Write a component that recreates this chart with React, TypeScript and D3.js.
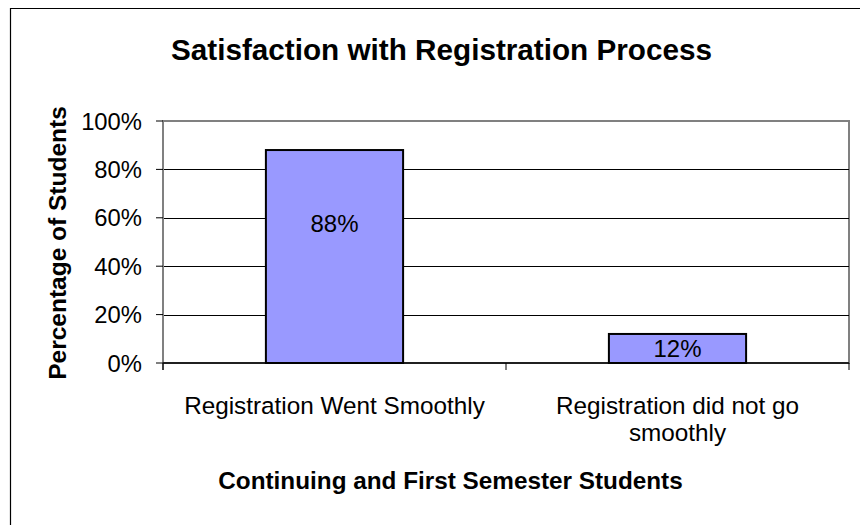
import React from "react";
import * as d3 from "d3";

const categories: string[][] = [
  ["Registration Went Smoothly"],
  ["Registration did not go", "smoothly"],
];
const values: number[] = [0.88, 0.12];
const yTicks: number[] = [0, 0.2, 0.4, 0.6, 0.8, 1.0];
const title = "Satisfaction with Registration Process";
const yTitle = "Percentage of Students";
const xTitle = "Continuing and First Semester Students";

const W = 860;
const H = 525;
const plot = { left: 163, right: 849, top: 121, bottom: 363 };
const FONT = "'Liberation Sans', Arial, sans-serif";

export default function App() {
  const x = d3
    .scaleBand<number>()
    .domain(values.map((_, i) => i))
    .range([plot.left, plot.right])
    .paddingInner(0.6)
    .paddingOuter(0.3);
  const step = (plot.right - plot.left) / values.length;
  const y = d3.scaleLinear().domain([0, 1]).range([plot.bottom, plot.top]);
  const fmt = d3.format(".0%");

  return (
    <svg
      width={W}
      height={H}
      style={{ position: "absolute", left: 0, top: 0, background: "#fff" }}
      fontFamily={FONT}
    >
      <rect x={0} y={0} width={W} height={H} fill="#fff" />
      {/* outer chart border */}
      <path d={`M10.5,${H} V8.5 H${W}`} fill="none" stroke="#000" strokeWidth={1.2} />

      {/* title */}
      <text x={441.5} y={60} textAnchor="middle" fontSize={29.7} fontWeight="bold" fill="#000">
        {title}
      </text>

      {/* plot area border */}
      <rect
        x={plot.left}
        y={plot.top}
        width={plot.right - plot.left}
        height={plot.bottom - plot.top}
        fill="#fff"
        stroke="#808080"
        strokeWidth={2}
      />

      {/* gridlines */}
      {yTicks
        .filter((t) => t > 0 && t < 1)
        .map((t) => (
          <line
            key={t}
            x1={plot.left}
            x2={plot.right}
            y1={Math.round(y(t)) + 0.5}
            y2={Math.round(y(t)) + 0.5}
            stroke="#000"
            strokeWidth={1}
          />
        ))}

      {/* bars */}
      {values.map((v, i) => {
        const bx = x(i)!;
        const bw = x.bandwidth();
        const top = y(v);
        const bottom = y(0);
        const cy = Math.min((top + bottom) / 2, top + 73);
        return (
          <g key={i}>
            <rect x={bx} y={top} width={bw} height={bottom - top} fill="#9999FF" stroke="#000" strokeWidth={2} />
            <text x={bx + bw / 2} y={cy + 9} textAnchor="middle" fontSize={24} fill="#000">
              {fmt(v)}
            </text>
          </g>
        );
      })}

      {/* y axis line */}
      <line x1={plot.left} x2={plot.left} y1={plot.top} y2={plot.bottom + 7} stroke="#808080" strokeWidth={2} />
      {/* x axis line */}
      <line x1={plot.left} x2={plot.right} y1={plot.bottom} y2={plot.bottom} stroke="#000" strokeWidth={1.5} />

      {/* y ticks */}
      {yTicks.map((t) => (
        <g key={t}>
          <line x1={plot.left - 7} x2={plot.left} y1={y(t)} y2={y(t)} stroke="#000" strokeWidth={1} />
          <text x={142} y={y(t) + 8.5} textAnchor="end" fontSize={23.8} fill="#000">
            {fmt(t)}
          </text>
        </g>
      ))}

      {/* x category ticks */}
      {d3.range(values.length + 1).map((i) => (
        <line
          key={i}
          x1={plot.left + i * step}
          x2={plot.left + i * step}
          y1={plot.bottom}
          y2={plot.bottom + 7}
          stroke="#000"
          strokeWidth={1}
        />
      ))}

      {/* x category labels */}
      {categories.map((lines, i) => (
        <text key={i} textAnchor="middle" fontSize={24.3} fill="#000">
          {lines.map((ln, j) => (
            <tspan key={j} x={x(i)! + x.bandwidth() / 2} y={414 + j * 27}>
              {ln}
            </tspan>
          ))}
        </text>
      ))}

      {/* axis titles */}
      <text
        transform={`translate(66,243) rotate(-90)`}
        textAnchor="middle"
        fontSize={24.5}
        fontWeight="bold"
        fill="#000"
      >
        {yTitle}
      </text>
      <text x={450.5} y={489} textAnchor="middle" fontSize={24.3} fontWeight="bold" fill="#000">
        {xTitle}
      </text>
    </svg>
  );
}
